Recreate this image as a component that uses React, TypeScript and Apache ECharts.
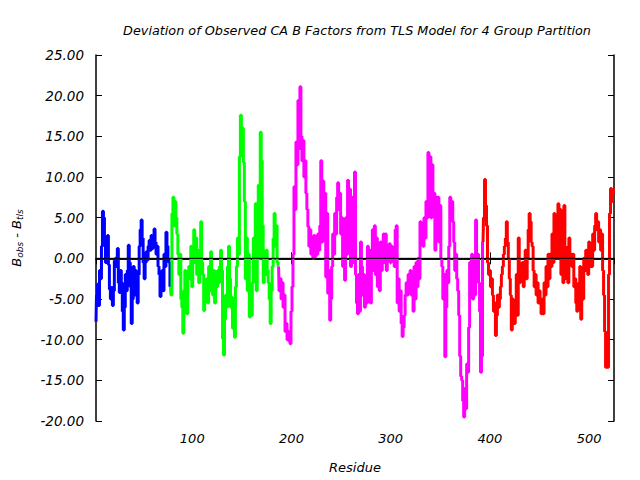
import React, { useEffect, useRef } from "react";
import * as echarts from "echarts";

const titleText = "Deviation of Observed CA B Factors from TLS Model for 4 Group Partition";
const xName = "Residue";
const xMin = 3;
const xMax = 525;
const yMin = -20;
const yMax = 25;
const yStep = 5;

const blueStart = 3;
const blueValues = [
  -7.8, -4.5, -3.2, -5.8, -1.5, -2.5, 1.5, 5.8, 5.0, 2.0, -0.5, 0.5, 2.8, -0.8, -3.8, -5.0, -3.6, -5.8, -4.0, -0.3,
  0.0, -1.0, 1.2, -3.0, -4.2, -1.5, -3.0, -6.5, -8.8, -6.0, -2.0, -4.0, -1.5, 1.6, -0.5, -3.5, -8.0, -5.0, -1.0, -4.5,
  -1.5, -3.0, -5.5, -2.0, 1.5, 3.5, 4.7, 2.5, -0.5, -2.5, -0.5, 0.8, -0.2, 1.5, 2.2, 1.0, 2.8, 1.2, 2.5, 3.6,
  2.0, 0.5, 1.5, -1.0, -2.0, -4.7, -3.0, -1.5, -4.0, 0.5, -1.0, 3.2, 1.5, 0.0, -0.5,
];

const greenStart = 78;
const greenValues = [
  -3.5, -4.5, 5.5, 7.5, 4.0, 7.0, 5.0, 3.0, 0.5, -2.0, 0.5, -5.0, -6.0, -9.2, -4.0, -1.5, -3.5, -6.8, -2.5, -1.0,
  -2.5, 1.5, -3.5, 0.5, 3.5, -0.5, 2.5, -2.0, 1.0, -3.0, 0.5, 4.5, -0.5, -2.0, -6.4, -3.0, -5.0, -2.5, -5.5, -1.0,
  -4.0, 0.8, -2.5, -4.5, -1.5, -5.5, -2.0, -3.5, -1.5, -3.0, -1.0, 1.0, -1.5, -9.9, -11.9, -7.5, -4.5, -6.0, -1.0, 1.5,
  -2.5, -6.0, -4.8, -8.6, -7.5, -9.7, -3.5, -1.0, 2.5, 0.5, 12.5, 17.6, 14.0, 16.0, 11.8, 7.0, -2.5, 2.5, -4.0, 0.5,
  -7.2, -5.0, -7.0, -3.0, 2.5, -1.0, 6.7, -4.0, 2.5, 9.0, 0.0, 15.5, 12.0, 4.0, -3.0, 0.5, -2.0, 1.0, -1.5, -3.0,
  -5.0, -8.0, -4.0, -1.0, 2.5, 5.5, 1.5, 4.0, -0.5,
];

const magentaStart = 187;
const magentaValues = [
  -1.0, -4.0, -2.5, -5.0, -3.0, -6.0, -4.5, -9.0, -8.0, -10.0, -9.0, -10.2, -10.5, -6.5, -3.5, 0.5, 8.8, 6.0, 14.3, 11.5,
  19.4, 13.5, 21.1, 15.0, 12.0, 14.5, 10.0, 12.0, 8.0, 6.0, 3.9, 1.5, 3.5, 0.5, 2.5, 0.0, 2.8, 0.2, 2.7, 0.5,
  3.0, 1.0, 4.0, 12.0, 2.0, 9.5, 3.5, 8.0, -2.3, 5.5, -4.3, -1.5, -7.6, -5.0, -1.0, 3.0, 0.5, 5.5, 3.0, 7.5,
  9.3, 6.0, 8.0, 3.0, 5.0, -1.0, 2.0, -2.7, 5.0, 0.5, 9.6, 1.0, 8.5, -1.0, 3.5, 7.5, -0.5, 10.6,
  -2.0, -5.5, -6.8, -2.0, -6.5, 2.0, -1.0, -4.5, -2.0, -6.0, -2.5, -5.5, 1.5, -3.5, 1.0, -5.5, -1.0, 3.5, -1.5, 4.0,
  -2.0, 2.5, -3.5, 1.5, -4.0, 2.0, -1.5, 1.5, 3.0, -0.5, 3.0, -1.5, 1.5, 0.0, 1.8, -0.5, 1.5, 0.0, 1.0, -1.0,
  3.5, 4.0, -5.5, -2.5, -6.5, -4.0, -8.0, -9.6, -8.5, -7.0, -4.5, -3.0, -4.5, -2.0, -3.5, -1.5, -4.5, -2.0, -6.5, -1.0,
  -5.0, -0.5, -3.5, 0.0, -2.5,
  4.5, 2.5, 3.5, 1.5, 5.0, 2.5, 7.0, 5.0, 13.0, 9.0, 12.5, 5.0, 11.5, 6.5, 8.0, 1.0, 7.5, 3.0, 7.5, 2.0,
  6.5, 0.0, -1.0, -5.0, -2.0, -12.1, -6.0, -1.5, -3.0, 1.5, 7.5, 5.0, 7.0, 4.5, 2.0, -1.5, 0.5, -2.5, -4.0, -7.0,
  -12.0, -14.5, -15.0, -17.5, -19.5, -16.0, -18.5, -13.0, -14.0, -8.5, -0.5, -3.0, 0.5, -5.0, -2.0, -4.5, 4.7, -1.5, 0.5, -3.0,
  -6.5, -14.0, -12.0,
];

const redStart = 393;
const redValues = [
  2.0, 5.0, 9.7, 6.5, 4.0, -0.5, -2.0, -1.5, -3.5, -2.5, -4.5, -6.5, -5.5, -9.5, -7.0, -4.5, -6.0,
  -5.0, -3.5, -2.0, -1.0, 0.5, 1.5, 2.5, 4.5, 2.0, 0.0, -2.5, -4.5, -8.8, -5.0, -7.5, -8.0, -5.0, -2.0, -7.0, 2.5,
  -3.0, -1.0, -2.0, -0.5, -3.5, -1.0, 1.0, -2.5, 0.0, 3.5, 5.5, 4.5, 2.0, 1.5, -1.5, -3.5, -2.0, -4.5, -3.0, -5.5,
  -4.0, -5.5, -6.8, -5.0, -6.8, -3.0, -4.5, -1.0, -3.5, 0.5, -2.5, 0.5, -1.0, 3.0, -0.5, 5.5, 1.0, 4.5, 0.0, 6.7,
  3.5, 6.0, -2.0, 1.0, -3.0, 6.5, 1.5, -2.5, 0.0, -3.0, 2.5, -0.5, 0.5, -1.0, 0.5, -3.5, -2.5, -5.5, -6.5, -4.0,
  -3.0, -1.0, -7.5, -3.5, -5.0, 0.0, -1.5, 1.0, -0.5, -2.0, 2.0, -1.0, 0.5, -1.0, 3.0, 1.0, 4.0, 5.5, 3.5, 4.5,
  2.0, 3.5, 1.0, 3.0, -1.5, -4.5, -9.0, -13.4, -10.0, -13.4, -2.0, 5.5, 8.6, 7.0, 8.0, 8.6,
];

const groups = [
  { name: "Group 1", color: "#0000ff", start: blueStart, values: blueValues },
  { name: "Group 2", color: "#00ff00", start: greenStart, values: greenValues },
  { name: "Group 3", color: "#ff00ff", start: magentaStart, values: magentaValues },
  { name: "Group 4", color: "#ff0000", start: redStart, values: redValues },
];

const FONT = "DejaVu Sans";

export default function App() {
  const ref = useRef<HTMLDivElement>(null);
  useEffect(() => {
    if (!ref.current) return;
    const chart = echarts.init(ref.current, undefined, { renderer: "svg" });
    const series: any[] = groups.map((g, gi) => {
      const data: number[][] = g.values.map((v, i) => [g.start + i, v]);
      const next = groups[gi + 1];
      if (next) data.push([next.start, next.values[0]]);
      return {
        type: "line",
        name: g.name,
        data,
        step: "middle",
        showSymbol: false,
        symbol: "none",
        lineStyle: { color: g.color, width: 3 },
        itemStyle: { color: g.color },
        z: 2,
      };
    });
    series.push({
      type: "line",
      name: "zero",
      data: [[xMin, 0], [xMax, 0]],
      showSymbol: false,
      symbol: "none",
      lineStyle: { color: "#000", width: 1 },
      z: 5,
    });
    const labelStyle = { fontFamily: FONT, fontStyle: "italic", fontSize: 12, color: "#000" };
    const axisLine = { show: true, lineStyle: { color: "#000", width: 1.5 } };
    const axisTick = { show: true, inside: true, length: 6, lineStyle: { color: "#000", width: 1 } };
    const option: any = {
      animation: false,
      backgroundColor: "#fff",
      title: {
        text: titleText,
        left: 352,
        top: 19,
        textAlign: "center",
        textStyle: { ...labelStyle, fontSize: 12.8, fontWeight: "normal" },
      },
      grid: { left: 96, right: 26, top: 55, bottom: 59 },
      xAxis: [
        {
          type: "value",
          min: xMin,
          max: xMax,
          position: "bottom",
          name: xName,
          nameLocation: "middle",
          nameGap: 40,
          nameTextStyle: { ...labelStyle, fontSize: 13 },
          axisLine,
          axisTick,
          axisLabel: {
            ...labelStyle,
            fontSize: 13,
            margin: 11,
            showMinLabel: false,
            showMaxLabel: false,
            formatter: (v: number) => (v % 100 === 0 ? String(v) : ""),
          },
          splitLine: { show: false },
        },
        {
          type: "value",
          min: xMin,
          max: xMax,
          position: "top",
          axisLine,
          axisTick,
          axisLabel: { show: false },
          splitLine: { show: false },
        },
      ],
      yAxis: [
        {
          type: "value",
          min: yMin,
          max: yMax,
          interval: yStep,
          position: "left",
          name: "{i|B}{s|obs}{i| - B}{s|tls}",
          nameLocation: "middle",
          nameRotate: 90,
          nameGap: 72,
          nameTextStyle: {
            ...labelStyle,
            rich: {
              i: { fontFamily: FONT, fontStyle: "italic", fontSize: 13, color: "#000", lineHeight: 16 },
              s: { fontFamily: FONT, fontStyle: "italic", fontSize: 9, color: "#000", lineHeight: 16, padding: [7, 0, 0, 0] },
            },
          },
          axisLine,
          axisTick,
          axisLabel: { ...labelStyle, fontSize: 13.5, margin: 12, formatter: (v: number) => v.toFixed(2) },
          splitLine: { show: false },
        },
        {
          type: "value",
          min: yMin,
          max: yMax,
          interval: yStep,
          position: "right",
          axisLine,
          axisTick,
          axisLabel: { show: false },
          splitLine: { show: false },
        },
      ],
      series,
    };
    chart.setOption(option);
    return () => chart.dispose();
  }, []);
  return <div ref={ref} style={{ position: "fixed", left: 0, top: 0, width: 640, height: 480 }} />;
}
